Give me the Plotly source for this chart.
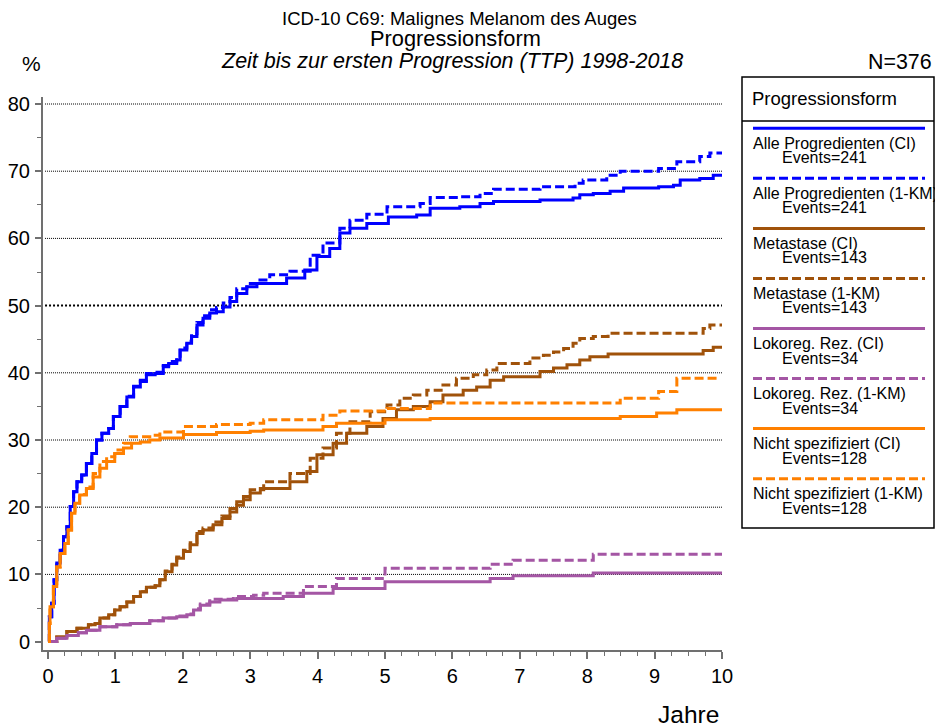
import plotly.graph_objects as go

# ---------------- data ----------------
alle_ci_t = [0, 0.02, 0.055, 0.09, 0.13, 0.18, 0.23, 0.28, 0.33, 0.38, 0.43, 0.50, 0.57, 0.65, 0.72, 0.80, 0.90, 0.97, 1.07, 1.17, 1.27, 1.37, 1.46, 1.59, 1.71, 1.79, 1.91, 1.96, 2.06, 2.13, 2.21, 2.30, 2.40, 2.50, 2.60, 2.70, 2.80, 2.95, 3.10,
             3.54, 3.81, 3.99, 4.18, 4.33, 4.48, 4.73, 5.05, 5.47, 5.67, 6.11, 6.41, 6.61, 7.30, 7.79, 7.89, 8.09, 8.34, 8.54, 9.06, 9.28, 9.38, 9.67, 9.87, 10.0]
alle_ci_v = [0, 3.7, 5.7, 9.2, 11.7, 13.6, 15.6, 17.1, 20.1, 22.3, 23.8, 24.8, 26.5, 28.0, 30.0, 31.0, 31.7, 33.5, 35.0, 36.4, 37.9, 38.7, 39.7, 39.9, 40.9, 41.4, 41.9, 43.4, 44.4, 45.4, 47.1, 48.1, 48.9, 49.1, 49.8, 50.6, 51.8, 52.8, 53.3,
             54.1, 55.3, 57.3, 58.5, 60.8, 61.5, 62.2, 63.2, 63.5, 64.5, 64.7, 65.2, 65.5, 65.7, 66.0, 66.5, 66.7, 67.0, 67.5, 67.7, 67.9, 68.7, 68.9, 69.4, 69.4]

alle_km_t = [0, 0.02, 0.055, 0.09, 0.13, 0.18, 0.23, 0.28, 0.33, 0.38, 0.43, 0.50, 0.57, 0.65, 0.72, 0.80, 0.90, 0.97, 1.07, 1.17, 1.27, 1.37, 1.46, 1.59, 1.71, 1.79, 1.91, 1.96, 2.06, 2.13, 2.21, 2.30, 2.40, 2.50, 2.60, 2.70, 2.80, 2.95, 3.10,
             3.29, 3.59, 3.89, 4.08, 4.33, 4.48, 4.73, 5.03, 5.52, 5.67, 6.1, 6.41, 6.61, 7.3, 7.82, 7.94, 8.29, 8.49, 9.06, 9.33, 9.67, 9.82, 10.0]
alle_km_v = [0, 3.7, 5.7, 9.2, 11.7, 13.6, 15.6, 17.1, 20.1, 22.3, 23.8, 24.8, 26.5, 28.0, 30.0, 31.0, 31.7, 33.5, 35.0, 36.5, 38.0, 38.9, 39.9, 40.1, 41.1, 41.7, 42.2, 43.7, 44.7, 45.8, 47.5, 48.5, 49.4, 49.7, 50.4, 51.2, 52.5, 53.3, 53.8,
             54.6, 55.1, 57.5, 59.3, 61.5, 62.7, 63.6, 64.7, 65.2, 66.1, 66.2, 66.7, 67.3, 67.7, 68.2, 68.7, 69.4, 70.0, 70.4, 71.4, 72.2, 72.7, 72.7]

meta_ci_t = [0, 0.13, 0.28, 0.43, 0.60, 0.70, 0.77, 0.90, 0.99, 1.07, 1.17, 1.27, 1.37, 1.46, 1.59, 1.66, 1.74, 1.84, 1.91, 2.01, 2.11, 2.21, 2.30, 2.45, 2.58, 2.70, 2.80, 2.90, 3.0, 3.15,
             3.59, 3.84, 3.99, 4.23, 4.43, 4.73, 4.97, 5.17, 5.42, 5.67, 5.86, 6.16, 6.36, 6.56, 6.76, 7.30, 7.50, 7.70, 7.89, 8.04, 8.31, 9.72, 9.87, 10.0]
meta_ci_v = [0, 0.7, 1.5, 2.0, 2.5, 2.7, 3.5, 4.0, 4.7, 5.2, 5.9, 6.7, 7.4, 8.1, 8.3, 9.2, 10.4, 11.4, 12.4, 13.4, 14.4, 16.1, 16.6, 17.4, 18.3, 19.3, 20.3, 21.1, 22.1, 22.8,
             23.8, 25.3, 27.8, 29.5, 31.0, 32.0, 33.2, 34.5, 35.0, 35.7, 36.7, 37.4, 37.9, 38.9, 39.4, 40.2, 40.7, 41.2, 41.9, 42.4, 42.8, 43.3, 43.8, 43.8]

meta_km_t = [0, 0.13, 0.28, 0.43, 0.60, 0.70, 0.77, 0.90, 0.99, 1.07, 1.17, 1.27, 1.37, 1.46, 1.59, 1.66, 1.74, 1.84, 1.91, 2.01, 2.11, 2.21, 2.30, 2.45, 2.58, 2.70, 2.80, 2.90, 3.0, 3.2,
             3.59, 3.89, 4.08, 4.28, 4.48, 4.78, 5.03, 5.22, 5.42, 5.62, 5.86, 6.06, 6.31, 6.51, 6.66, 7.15, 7.35, 7.50, 7.65, 7.79, 7.89, 8.09, 8.31, 9.72, 9.82, 10.0]
meta_km_v = [0, 0.7, 1.5, 2.0, 2.5, 2.7, 3.5, 4.0, 4.7, 5.2, 5.9, 6.7, 7.4, 8.1, 8.3, 9.2, 10.5, 11.5, 12.6, 13.6, 14.7, 16.4, 16.9, 17.8, 18.7, 19.8, 20.8, 21.6, 22.6, 23.8,
             25.0, 27.3, 28.8, 31.0, 32.7, 34.2, 35.2, 36.2, 36.7, 37.4, 38.2, 39.2, 39.7, 40.4, 41.4, 42.2, 42.6, 43.1, 43.6, 44.4, 45.1, 45.4, 45.9, 46.6, 47.1, 47.1]

lok_ci_t = [0, 0.13, 0.28, 0.45, 0.57, 0.77, 1.02, 1.22, 1.51, 1.71, 1.91, 2.06, 2.16, 2.26, 2.40, 2.55, 2.80, 3.49, 3.79, 4.23, 5.0, 6.56, 6.90, 8.09, 10.0]
lok_ci_v = [0, 0.5, 0.9, 1.3, 1.7, 2.2, 2.5, 2.7, 3.1, 3.5, 3.7, 4.0, 4.7, 5.4, 5.9, 6.2, 6.4, 6.7, 7.2, 7.9, 8.9, 9.4, 9.8, 10.2, 10.2]

lok_km_t = [0, 0.13, 0.28, 0.45, 0.57, 0.77, 1.02, 1.22, 1.51, 1.71, 1.91, 2.06, 2.16, 2.26, 2.40, 2.75, 3.05, 3.2, 3.79, 4.28, 5.0, 6.56, 6.90, 8.09, 10.0]
lok_km_v = [0, 0.5, 0.9, 1.3, 1.7, 2.2, 2.5, 2.7, 3.1, 3.5, 3.8, 4.1, 4.9, 5.6, 6.3, 6.7, 6.9, 7.2, 8.2, 9.4, 10.9, 11.5, 12.1, 13.0, 13.0]

nicht_ci_t = [0, 0.02, 0.03, 0.08, 0.13, 0.18, 0.25, 0.30, 0.35, 0.40, 0.47, 0.57, 0.67, 0.77, 0.87, 0.99, 1.12, 1.24, 1.37, 1.51, 1.66, 2.01, 2.5, 3.0, 3.2, 4.08, 4.28, 5.0, 5.67, 8.49, 9.03, 9.33, 10.0]
nicht_ci_v = [0, 2.7, 5.2, 8.2, 11.1, 13.1, 14.6, 16.6, 19.1, 20.6, 21.8, 22.8, 24.5, 25.8, 26.8, 28.0, 28.8, 29.5, 29.7, 30.0, 30.3, 30.8, 31.1, 31.3, 31.5, 32.0, 32.5, 33.0, 33.2, 33.5, 34.0, 34.5, 34.5]

nicht_km_t = [0, 0.02, 0.03, 0.08, 0.13, 0.18, 0.25, 0.30, 0.35, 0.40, 0.47, 0.57, 0.67, 0.77, 0.87, 0.99, 1.12, 1.22, 1.51, 1.66, 2.01, 2.5, 3.0, 3.2, 4.08, 4.33, 5.03, 5.67, 8.49, 9.06, 9.33, 9.93]
nicht_km_v = [0, 2.7, 5.2, 8.2, 11.1, 13.1, 14.6, 16.6, 19.1, 20.6, 21.9, 23.0, 25.0, 26.8, 27.5, 28.5, 29.5, 30.5, 30.7, 31.2, 32.0, 32.3, 32.5, 33.0, 33.7, 34.3, 34.7, 35.5, 36.2, 37.2, 39.2, 39.2]

series_names = ["Alle Progredienten (CI)", "Alle Progredienten (1-KM)",
                "Metastase (CI)", "Metastase (1-KM)",
                "Lokoreg. Rez. (CI)", "Lokoreg. Rez. (1-KM)",
                "Nicht spezifiziert (CI)", "Nicht spezifiziert (1-KM)"]
series_events = [241, 241, 143, 143, 34, 34, 128, 128]
series_t = [alle_ci_t, alle_km_t, meta_ci_t, meta_km_t, lok_ci_t, lok_km_t, nicht_ci_t, nicht_km_t]
series_v = [alle_ci_v, alle_km_v, meta_ci_v, meta_km_v, lok_ci_v, lok_km_v, nicht_ci_v, nicht_km_v]

x_ticks = list(range(0, 11))
y_ticks = list(range(0, 81, 10))
grid_vals = list(range(10, 81, 10))

# ---------------- style ----------------
FONT = "Liberation Sans, Arial, sans-serif"
colors = ["#0000FF", "#0000FF", "#A0520A", "#A0520A", "#A456A4", "#A456A4", "#FF8000", "#FF8000"]
dashes = ["solid", "9px,4px"] * 4
AX = "#707070"

# plot-area pixel geometry
PL, PR, PT, PB = 43, 722, 97, 650
W, H = PR - PL, PB - PT

def fx(px):
    return (px - PL) / W

def fy(py):
    return (PB - py) / H

fig = go.Figure()

# gridlines (dotted), 50% line heavier
shapes = []
for g in grid_vals:
    heavy = (g == 50)
    shapes.append(dict(type="line", xref="paper", yref="y", x0=0.003, x1=1, y0=g, y1=g,
                       line=dict(color="black", width=2 if heavy else 1,
                                 dash="2px,2px" if heavy else "1px,1px"),
                       layer="below"))

for name, t, v, c, d in zip(series_names, series_t, series_v, colors, dashes):
    fig.add_trace(go.Scatter(x=t, y=v, mode="lines", name=name, line_shape="hv",
                             line=dict(color=c, width=3, dash=d), showlegend=False))

# legend box drawn manually
LX0, LX1, LY0, LY1 = 742, 934, 77, 528
shapes.append(dict(type="rect", xref="paper", yref="paper", x0=fx(LX0), x1=fx(LX1),
                   y0=fy(LY1), y1=fy(LY0), line=dict(color="black", width=1.5)))
shapes.append(dict(type="line", xref="paper", yref="paper", x0=fx(LX0), x1=fx(LX1),
                   y0=fy(121), y1=fy(121), line=dict(color="black", width=1.5)))

annotations = []
annotations.append(dict(xref="paper", yref="paper", x=fx(750), y=fy(98), text="Progressionsform",
                        showarrow=False, xanchor="left", yanchor="middle",
                        font=dict(family=FONT, size=18.5, color="black")))
for i, (name, ev, c, d) in enumerate(zip(series_names, series_events, colors, dashes)):
    yl = 128.3 + 50.05 * i
    shapes.append(dict(type="line", xref="paper", yref="paper", x0=fx(753), x1=fx(925),
                       y0=fy(yl), y1=fy(yl), line=dict(color=c, width=3, dash=d)))
    annotations.append(dict(xref="paper", yref="paper", x=fx(751), y=fy(yl + 15), text=name,
                            showarrow=False, xanchor="left", yanchor="middle",
                            font=dict(family=FONT, size=16, color="black")))
    annotations.append(dict(xref="paper", yref="paper", x=fx(780), y=fy(yl + 29.5),
                            text="Events=%d" % ev,
                            showarrow=False, xanchor="left", yanchor="middle",
                            font=dict(family=FONT, size=16, color="black")))

# titles and axis labels
annotations += [
    dict(xref="paper", yref="paper", x=fx(459), y=fy(18), text="ICD-10 C69: Malignes Melanom des Auges",
         showarrow=False, xanchor="center", yanchor="middle", font=dict(family=FONT, size=18.5, color="black")),
    dict(xref="paper", yref="paper", x=fx(456), y=fy(38), text="Progressionsform",
         showarrow=False, xanchor="center", yanchor="middle", font=dict(family=FONT, size=21.8, color="black")),
    dict(xref="paper", yref="paper", x=fx(452), y=fy(61),
         text="<i>Zeit bis zur ersten Progression (TTP) 1998-2018</i>",
         showarrow=False, xanchor="center", yanchor="middle", font=dict(family=FONT, size=21.5, color="black")),
    dict(xref="paper", yref="paper", x=fx(31), y=fy(64), text="%",
         showarrow=False, xanchor="center", yanchor="middle", font=dict(family=FONT, size=21, color="black")),
    dict(xref="paper", yref="paper", x=fx(934), y=fy(62), text="N=376",
         showarrow=False, xanchor="right", yanchor="middle", font=dict(family=FONT, size=21.4, color="black")),
    dict(xref="paper", yref="paper", x=fx(721), y=fy(714), text="Jahre",
         showarrow=False, xanchor="right", yanchor="middle", font=dict(family=FONT, size=24.5, color="black")),
]

xr = [(PL - 48) / 67.4, (PR - 48) / 67.4]
yr = [(641.6 - PB) / 6.72, (641.6 - PT) / 6.72]

fig.update_layout(
    width=935, height=728,
    margin=dict(l=PL, r=935 - PR, t=PT, b=728 - PB, pad=0),
    paper_bgcolor="white", plot_bgcolor="white",
    font=dict(family=FONT, color="black"),
    shapes=shapes, annotations=annotations,
    showlegend=False,
    xaxis=dict(range=xr, tickvals=x_ticks, ticktext=[str(v) for v in x_ticks],
               automargin=False,
               showline=True, linecolor=AX, linewidth=2, mirror=False,
               ticks="outside", ticklen=7, tickwidth=1.5, tickcolor=AX,
               minor=dict(dtick=0.25, tick0=0, ticks="outside", ticklen=4, tickwidth=1.2, tickcolor=AX, showgrid=False),
               showgrid=False, zeroline=False, ticklabelstandoff=0,
               tickfont=dict(family=FONT, size=20, color="black")),
    yaxis=dict(range=yr, tickvals=y_ticks, ticktext=[str(v) for v in y_ticks],
               automargin=False,
               showline=True, linecolor=AX, linewidth=2, mirror=False,
               ticks="outside", ticklen=6, tickwidth=1.5, tickcolor=AX,
               minor=dict(dtick=5, tick0=0, ticks="outside", ticklen=4, tickwidth=1.2, tickcolor=AX, showgrid=False),
               showgrid=False, zeroline=False, ticklabelstandoff=1,
               tickfont=dict(family=FONT, size=20, color="black")),
)

fig.write_html("out.html", config={"displayModeBar": False},
               post_script="document.body.style.margin='0';document.body.style.overflow='hidden';")
